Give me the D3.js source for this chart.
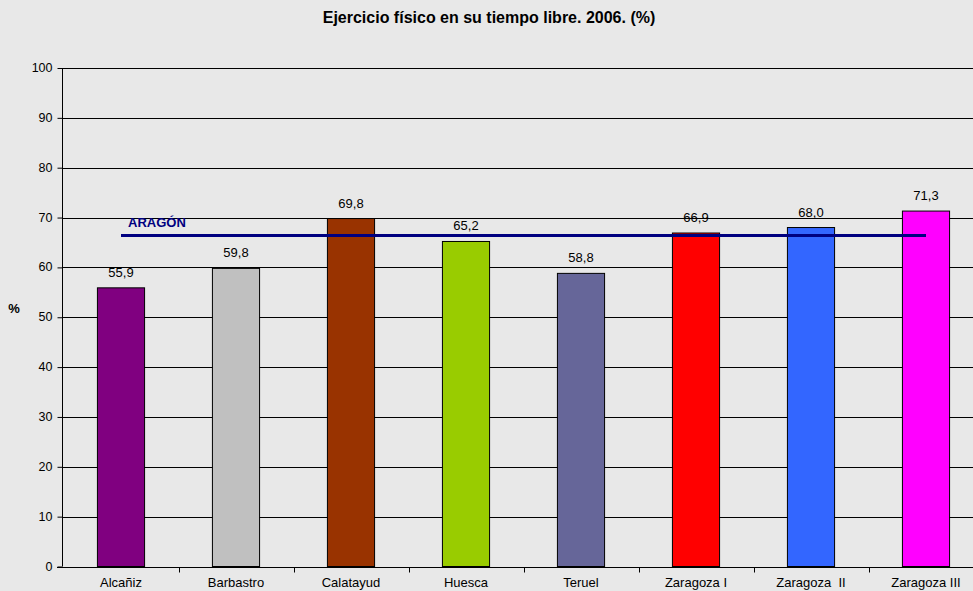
<!DOCTYPE html>
<html><head><meta charset="utf-8">
<script src="https://cdn.jsdelivr.net/npm/d3@7"></script>
<style>
body{margin:0;background:#e8e8e8;}
text{font-family:Arial,"Liberation Sans",sans-serif;}
</style></head>
<body><svg id="c" width="973" height="591"></svg>
<script>
const categories = ["Alcañiz","Barbastro","Calatayud","Huesca","Teruel","Zaragoza I","Zaragoza  II","Zaragoza III"];
const values = [55.9, 59.8, 69.8, 65.2, 58.8, 66.9, 68.0, 71.3];
const colors = ["#800080","#C0C0C0","#993300","#99CC00","#666699","#FF0000","#3366FF","#FF00FF"];
const aragonValue = 66.4;
const aragonLabel = "ARAGÓN";
const yTicks = [0,10,20,30,40,50,60,70,80,90,100];
const title = "Ejercicio físico en su tiempo libre. 2006. (%)";

const svg = d3.select("#c");
svg.append("rect").attr("width",973).attr("height",591).attr("fill","#e8e8e8");
const x = d3.scaleBand().domain(categories).range([63.5, 983.5]).paddingInner(0.59).paddingOuter(0.295);
const y = d3.scaleLinear().domain([0,100]).range([566.5, 68]);

// gridlines
svg.append("g").selectAll("line").data(yTicks.filter(d=>d>0)).join("line")
  .attr("x1",62).attr("x2",973).attr("y1",d=>Math.round(y(d))+0.5).attr("y2",d=>Math.round(y(d))+0.5)
  .attr("stroke","#000").attr("stroke-width",1);

// y axis
const ya = svg.append("g").attr("transform","translate(62.5,0)")
  .call(d3.axisLeft(y).tickValues(yTicks).tickSize(5).tickPadding(5).tickFormat(d3.format("d")));
ya.select(".domain").attr("stroke","#000").attr("d","M0,"+y(100)+"V"+y(0));
ya.selectAll("text").attr("font-size","12.5px").attr("fill","#000").attr("dy","0.28em");
ya.selectAll(".tick line").attr("stroke","#000");

// bars
svg.append("g").selectAll("rect").data(values).join("rect")
  .attr("x",(d,i)=>x(categories[i])).attr("width",x.bandwidth())
  .attr("y",d=>y(d)).attr("height",d=>y(0)-y(d))
  .attr("fill",(d,i)=>colors[i]).attr("stroke","#000").attr("stroke-width",1);

// value labels
svg.append("g").selectAll("text").data(values).join("text")
  .attr("x",(d,i)=>x(categories[i])+x.bandwidth()/2).attr("y",d=>y(d)-11)
  .attr("text-anchor","middle").attr("font-size","13px").attr("fill","#000")
  .text(d=>d3.format(".1f")(d).replace(".",","));

// x axis
const step = x.step();
const xa = svg.append("g").attr("transform","translate(0,"+(Math.round(y(0))+0.5)+")");
xa.append("line").attr("x1",57).attr("x2",973).attr("stroke","#000");
const bounds = d3.range(1,categories.length).map(i=>x(categories[i]) - x.paddingInner()*step/2);
xa.selectAll("line.t").data(bounds).join("line").attr("class","t")
  .attr("x1",d=>Math.round(d)+0.5).attr("x2",d=>Math.round(d)+0.5).attr("y1",0).attr("y2",5).attr("stroke","#000");
xa.selectAll("text").data(categories).join("text")
  .attr("x",d=>x(d)+x.bandwidth()/2).attr("y",19.5).attr("text-anchor","middle")
  .attr("font-size","13px").attr("fill","#000").style("white-space","pre").text(d=>d);

// Aragón line
const c0 = x(categories[0])+x.bandwidth()/2, c1 = x(categories[categories.length-1])+x.bandwidth()/2;
svg.append("line").attr("x1",c0).attr("x2",c1).attr("y1",y(aragonValue)).attr("y2",y(aragonValue))
  .attr("stroke","#000080").attr("stroke-width",3);
svg.append("text").attr("x",c0+7).attr("y",y(aragonValue)-8.5).attr("font-size","13px")
  .attr("font-weight","bold").attr("fill","#000080").text(aragonLabel);

// title & axis label
svg.append("text").attr("x",489).attr("y",23).attr("text-anchor","middle").attr("font-size","16px")
  .attr("font-weight","bold").attr("fill","#000").text(title);
svg.append("text").attr("x",14).attr("y",313).attr("text-anchor","middle").attr("font-size","13px")
  .attr("font-weight","bold").attr("fill","#000").text("%");
</script></body></html>
